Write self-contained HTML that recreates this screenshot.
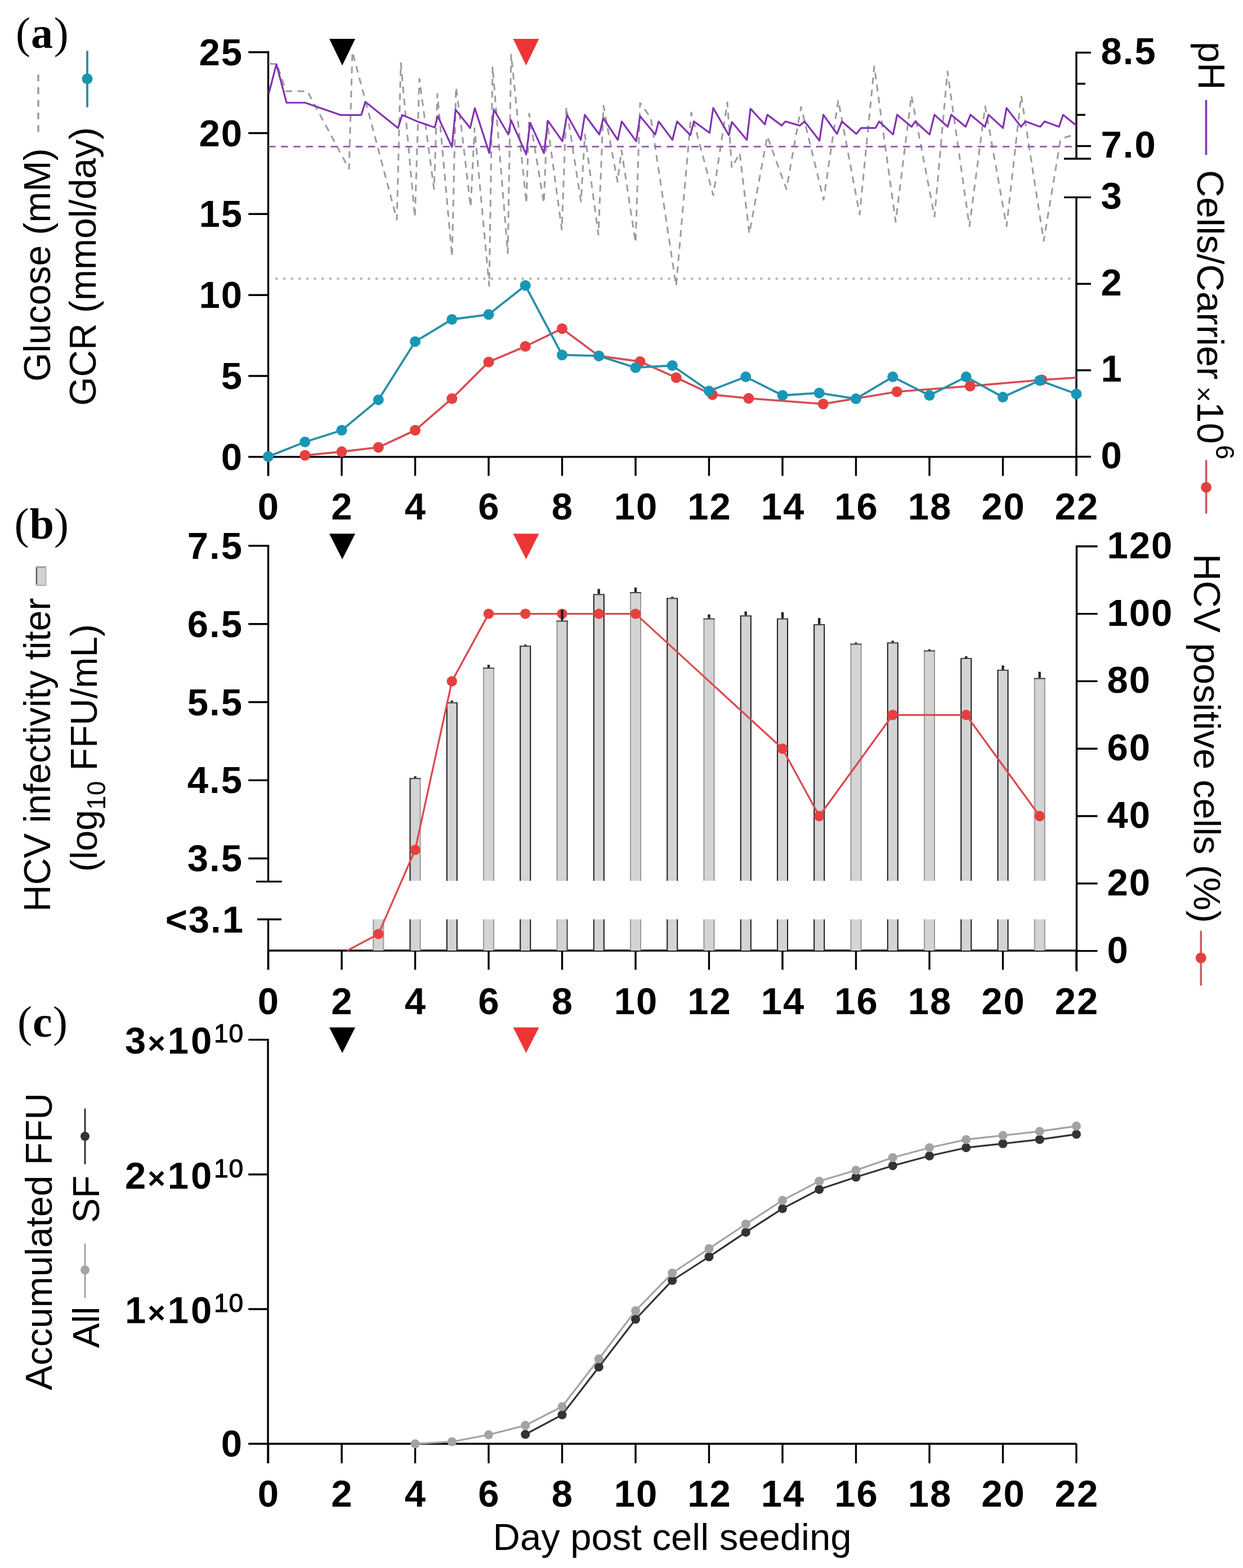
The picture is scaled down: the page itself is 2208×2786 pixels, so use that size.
<!DOCTYPE html>
<html><head><meta charset="utf-8"><title>Figure</title>
<style>html,body{margin:0;padding:0;background:#fff;} svg{display:block;}</style></head>
<body><svg width="2208" height="2786" viewBox="0 0 2208 2786">
<rect width="2208" height="2786" fill="#fff"/>
<line x1="476.5" y1="90.8" x2="476.5" y2="845.5" stroke="#000" stroke-width="3.4" />
<line x1="441.2" y1="92.7" x2="476.5" y2="92.7" stroke="#000" stroke-width="3.4" />
<line x1="441.2" y1="236.5" x2="476.5" y2="236.5" stroke="#000" stroke-width="3.4" />
<line x1="441.2" y1="380.3" x2="476.5" y2="380.3" stroke="#000" stroke-width="3.4" />
<line x1="441.2" y1="524.2" x2="476.5" y2="524.2" stroke="#000" stroke-width="3.4" />
<line x1="441.2" y1="668.0" x2="476.5" y2="668.0" stroke="#000" stroke-width="3.4" />
<line x1="441.2" y1="811.8" x2="476.5" y2="811.8" stroke="#000" stroke-width="3.4" />
<line x1="476.5" y1="811.8" x2="1912.0" y2="811.8" stroke="#000" stroke-width="3.4" />
<line x1="476.5" y1="811.8" x2="476.5" y2="845.5" stroke="#000" stroke-width="3.4" />
<line x1="607.0" y1="811.8" x2="607.0" y2="845.5" stroke="#000" stroke-width="3.4" />
<line x1="737.5" y1="811.8" x2="737.5" y2="845.5" stroke="#000" stroke-width="3.4" />
<line x1="868.0" y1="811.8" x2="868.0" y2="845.5" stroke="#000" stroke-width="3.4" />
<line x1="998.5" y1="811.8" x2="998.5" y2="845.5" stroke="#000" stroke-width="3.4" />
<line x1="1129.0" y1="811.8" x2="1129.0" y2="845.5" stroke="#000" stroke-width="3.4" />
<line x1="1259.5" y1="811.8" x2="1259.5" y2="845.5" stroke="#000" stroke-width="3.4" />
<line x1="1390.0" y1="811.8" x2="1390.0" y2="845.5" stroke="#000" stroke-width="3.4" />
<line x1="1520.5" y1="811.8" x2="1520.5" y2="845.5" stroke="#000" stroke-width="3.4" />
<line x1="1651.0" y1="811.8" x2="1651.0" y2="845.5" stroke="#000" stroke-width="3.4" />
<line x1="1781.5" y1="811.8" x2="1781.5" y2="845.5" stroke="#000" stroke-width="3.4" />
<line x1="1912.0" y1="811.8" x2="1912.0" y2="845.5" stroke="#000" stroke-width="3.4" />
<line x1="1912.0" y1="91.8" x2="1912.0" y2="282.0" stroke="#000" stroke-width="3.4" />
<line x1="1912.0" y1="93.5" x2="1938.0" y2="93.5" stroke="#000" stroke-width="3.4" />
<line x1="1912.0" y1="148.8" x2="1928.0" y2="148.8" stroke="#000" stroke-width="3.4" />
<line x1="1912.0" y1="204.1" x2="1928.0" y2="204.1" stroke="#000" stroke-width="3.4" />
<line x1="1912.0" y1="259.5" x2="1938.0" y2="259.5" stroke="#000" stroke-width="3.4" />
<line x1="1890.0" y1="282.0" x2="1938.0" y2="282.0" stroke="#000" stroke-width="3.4" />
<line x1="1912.0" y1="350.6" x2="1912.0" y2="845.5" stroke="#000" stroke-width="3.4" />
<line x1="1890.0" y1="350.6" x2="1938.0" y2="350.6" stroke="#000" stroke-width="3.4" />
<line x1="1912.0" y1="504.3" x2="1938.0" y2="504.3" stroke="#000" stroke-width="3.4" />
<line x1="1912.0" y1="657.9" x2="1938.0" y2="657.9" stroke="#000" stroke-width="3.4" />
<line x1="1912.0" y1="811.5" x2="1938.0" y2="811.5" stroke="#000" stroke-width="3.4" />
<text id="la25" x="432.0" y="115.7" font-size="67" text-anchor="end" style='font-family:"Liberation Sans",Arial,sans-serif;font-weight:bold;letter-spacing:2px' fill="#000" >25</text>
<text id="la20" x="432.0" y="259.5" font-size="67" text-anchor="end" style='font-family:"Liberation Sans",Arial,sans-serif;font-weight:bold;letter-spacing:2px' fill="#000" >20</text>
<text id="la15" x="432.0" y="403.3" font-size="67" text-anchor="end" style='font-family:"Liberation Sans",Arial,sans-serif;font-weight:bold;letter-spacing:2px' fill="#000" >15</text>
<text id="la10" x="432.0" y="547.2" font-size="67" text-anchor="end" style='font-family:"Liberation Sans",Arial,sans-serif;font-weight:bold;letter-spacing:2px' fill="#000" >10</text>
<text id="la5" x="432.0" y="691.0" font-size="67" text-anchor="end" style='font-family:"Liberation Sans",Arial,sans-serif;font-weight:bold;letter-spacing:2px' fill="#000" >5</text>
<text id="la0" x="432.0" y="834.8" font-size="67" text-anchor="end" style='font-family:"Liberation Sans",Arial,sans-serif;font-weight:bold;letter-spacing:2px' fill="#000" >0</text>
<text id="ph85" x="1955.5" y="114.0" font-size="67" text-anchor="start" style='font-family:"Liberation Sans",Arial,sans-serif;font-weight:bold;letter-spacing:2px' fill="#000" >8.5</text>
<text id="ph70" x="1955.5" y="280.0" font-size="67" text-anchor="start" style='font-family:"Liberation Sans",Arial,sans-serif;font-weight:bold;letter-spacing:2px' fill="#000" >7.0</text>
<text id="c3" x="1955.5" y="371.2" font-size="67" text-anchor="start" style='font-family:"Liberation Sans",Arial,sans-serif;font-weight:bold;letter-spacing:2px' fill="#000" >3</text>
<text id="c2" x="1955.5" y="524.8" font-size="67" text-anchor="start" style='font-family:"Liberation Sans",Arial,sans-serif;font-weight:bold;letter-spacing:2px' fill="#000" >2</text>
<text id="c1" x="1955.5" y="678.4" font-size="67" text-anchor="start" style='font-family:"Liberation Sans",Arial,sans-serif;font-weight:bold;letter-spacing:2px' fill="#000" >1</text>
<text id="c0" x="1955.5" y="832.0" font-size="67" text-anchor="start" style='font-family:"Liberation Sans",Arial,sans-serif;font-weight:bold;letter-spacing:2px' fill="#000" >0</text>
<text id="xa0" x="477.5" y="923.0" font-size="67" text-anchor="middle" style='font-family:"Liberation Sans",Arial,sans-serif;font-weight:bold;letter-spacing:2px' fill="#000" >0</text>
<text id="xa2" x="608.0" y="923.0" font-size="67" text-anchor="middle" style='font-family:"Liberation Sans",Arial,sans-serif;font-weight:bold;letter-spacing:2px' fill="#000" >2</text>
<text id="xa4" x="738.5" y="923.0" font-size="67" text-anchor="middle" style='font-family:"Liberation Sans",Arial,sans-serif;font-weight:bold;letter-spacing:2px' fill="#000" >4</text>
<text id="xa6" x="869.0" y="923.0" font-size="67" text-anchor="middle" style='font-family:"Liberation Sans",Arial,sans-serif;font-weight:bold;letter-spacing:2px' fill="#000" >6</text>
<text id="xa8" x="999.5" y="923.0" font-size="67" text-anchor="middle" style='font-family:"Liberation Sans",Arial,sans-serif;font-weight:bold;letter-spacing:2px' fill="#000" >8</text>
<text id="xa10" x="1130.0" y="923.0" font-size="67" text-anchor="middle" style='font-family:"Liberation Sans",Arial,sans-serif;font-weight:bold;letter-spacing:2px' fill="#000" >10</text>
<text id="xa12" x="1260.5" y="923.0" font-size="67" text-anchor="middle" style='font-family:"Liberation Sans",Arial,sans-serif;font-weight:bold;letter-spacing:2px' fill="#000" >12</text>
<text id="xa14" x="1391.0" y="923.0" font-size="67" text-anchor="middle" style='font-family:"Liberation Sans",Arial,sans-serif;font-weight:bold;letter-spacing:2px' fill="#000" >14</text>
<text id="xa16" x="1521.5" y="923.0" font-size="67" text-anchor="middle" style='font-family:"Liberation Sans",Arial,sans-serif;font-weight:bold;letter-spacing:2px' fill="#000" >16</text>
<text id="xa18" x="1652.0" y="923.0" font-size="67" text-anchor="middle" style='font-family:"Liberation Sans",Arial,sans-serif;font-weight:bold;letter-spacing:2px' fill="#000" >18</text>
<text id="xa20" x="1782.5" y="923.0" font-size="67" text-anchor="middle" style='font-family:"Liberation Sans",Arial,sans-serif;font-weight:bold;letter-spacing:2px' fill="#000" >20</text>
<text id="xa22" x="1913.0" y="923.0" font-size="67" text-anchor="middle" style='font-family:"Liberation Sans",Arial,sans-serif;font-weight:bold;letter-spacing:2px' fill="#000" >22</text>
<line x1="489.2" y1="495.3" x2="1910.0" y2="495.3" stroke="#b3b3b3" stroke-width="4" stroke-dasharray="4 9.67"/>
<polyline points="477.0,113.0 492.0,114.0 508.0,162.0 546.0,162.0 620.0,300.0 626.0,92.0 705.0,390.0 712.0,112.0 737.0,386.0 745.0,140.0 771.0,336.0 777.0,167.0 803.0,456.0 810.0,155.0 820.0,230.0 836.0,368.0 843.0,228.0 869.0,508.0 875.0,118.0 902.0,450.0 908.0,97.0 935.0,361.0 940.0,202.0 966.0,361.0 972.0,216.0 998.0,408.0 1006.0,190.0 1032.0,358.0 1039.0,239.0 1063.0,417.0 1072.0,188.0 1097.0,323.0 1104.0,267.0 1129.0,431.0 1137.0,183.0 1156.0,209.0 1201.0,508.0 1228.0,200.0 1267.0,347.0 1292.0,182.0 1300.0,298.0 1314.0,272.0 1331.0,415.0 1363.0,242.0 1397.0,336.0 1423.0,190.0 1463.0,355.0 1489.0,178.0 1527.0,381.0 1553.0,118.0 1591.0,394.0 1619.0,170.0 1660.0,385.0 1683.0,127.0 1722.0,402.0 1750.0,189.0 1788.0,402.0 1814.0,170.0 1854.0,428.0 1884.0,247.0 1905.0,240.0" fill="none" stroke="#9c9c9c" stroke-width="3" stroke-linejoin="round" stroke-dasharray="12 9.5"/>
<line x1="477.0" y1="260.4" x2="1906.0" y2="260.4" stroke="#9a62b6" stroke-width="3" stroke-dasharray="12.5 9.6"/>
<polyline points="477.4,166.5 491.0,114.0 509.0,182.5 542.0,182.5 604.8,204.3 641.7,204.3 649.0,181.0 707.0,227.5 714.4,204.3 741.7,215.9 772.3,226.4 777.6,206.4 802.8,261.0 809.2,194.8 835.2,227.5 843.4,192.3 869.2,272.0 877.3,194.7 903.0,239.0 907.8,213.4 934.7,274.3 941.7,218.0 966.3,272.0 973.3,214.6 999.0,250.9 1007.2,204.0 1031.8,248.5 1038.8,204.0 1064.6,239.0 1071.6,210.0 1097.4,248.5 1104.4,215.8 1130.0,250.9 1137.1,206.4 1164.0,239.0 1170.0,215.8 1194.5,248.5 1202.7,215.8 1226.3,240.2 1232.7,215.8 1260.5,236.0 1266.9,191.9 1294.7,240.2 1300.2,216.7 1326.7,248.7 1333.1,193.2 1358.7,221.0 1363.0,203.9 1388.6,223.1 1395.0,215.8 1420.7,223.1 1429.2,215.8 1455.7,250.0 1462.5,203.9 1486.9,238.0 1495.4,215.8 1521.0,238.0 1529.6,227.4 1555.2,227.4 1561.6,215.8 1586.4,238.9 1593.7,203.9 1619.3,225.2 1625.7,215.8 1651.3,238.9 1659.9,203.9 1683.4,225.2 1689.8,203.9 1715.4,225.2 1724.0,203.9 1749.6,225.2 1756.0,203.9 1781.6,227.4 1788.0,191.9 1813.7,225.2 1821.4,215.8 1847.8,225.2 1855.5,215.8 1881.2,225.2 1888.4,203.9 1911.9,223.1" fill="none" stroke="#8433b3" stroke-width="3.2" stroke-linejoin="round" />
<polyline points="541.8,809.0 607.0,802.6 672.2,794.8 737.5,764.5 802.8,708.2 868.0,643.2 933.2,615.5 998.5,583.9 1063.8,632.4 1137.0,642.4 1201.2,671.0 1265.5,701.2 1329.8,707.7 1462.2,717.7 1593.2,696.0 1723.2,686.0 1850.8,675.0 1912.0,671.0" fill="none" stroke="#d64c53" stroke-width="3.6" stroke-linejoin="round" />
<circle cx="541.8" cy="809.0" r="9.5" fill="#e5403f"/>
<circle cx="607.0" cy="802.6" r="9.5" fill="#e5403f"/>
<circle cx="672.2" cy="794.8" r="9.5" fill="#e5403f"/>
<circle cx="737.5" cy="764.5" r="9.5" fill="#e5403f"/>
<circle cx="802.8" cy="708.2" r="9.5" fill="#e5403f"/>
<circle cx="868.0" cy="643.2" r="9.5" fill="#e5403f"/>
<circle cx="933.2" cy="615.5" r="9.5" fill="#e5403f"/>
<circle cx="998.5" cy="583.9" r="9.5" fill="#e5403f"/>
<circle cx="1063.8" cy="632.4" r="9.5" fill="#e5403f"/>
<circle cx="1137.0" cy="642.4" r="9.5" fill="#e5403f"/>
<circle cx="1201.2" cy="671.0" r="9.5" fill="#e5403f"/>
<circle cx="1265.5" cy="701.2" r="9.5" fill="#e5403f"/>
<circle cx="1329.8" cy="707.7" r="9.5" fill="#e5403f"/>
<circle cx="1462.2" cy="717.7" r="9.5" fill="#e5403f"/>
<circle cx="1593.2" cy="696.0" r="9.5" fill="#e5403f"/>
<circle cx="1723.2" cy="686.0" r="9.5" fill="#e5403f"/>
<circle cx="1850.8" cy="675.0" r="9.5" fill="#e5403f"/>
<polyline points="476.5,811.2 541.8,785.3 607.0,764.5 672.2,710.4 737.5,606.9 802.8,567.5 868.0,558.8 933.2,507.3 998.5,630.7 1063.8,632.4 1129.0,653.2 1194.2,649.5 1259.5,694.7 1324.8,669.6 1390.0,702.5 1455.2,698.2 1520.5,708.6 1585.8,669.6 1651.0,702.5 1716.2,669.6 1781.5,705.6 1846.8,676.0 1912.0,700.0" fill="none" stroke="#2690a8" stroke-width="3.8" stroke-linejoin="round" />
<circle cx="476.5" cy="811.2" r="9.5" fill="#1996b6"/>
<circle cx="541.8" cy="785.3" r="9.5" fill="#1996b6"/>
<circle cx="607.0" cy="764.5" r="9.5" fill="#1996b6"/>
<circle cx="672.2" cy="710.4" r="9.5" fill="#1996b6"/>
<circle cx="737.5" cy="606.9" r="9.5" fill="#1996b6"/>
<circle cx="802.8" cy="567.5" r="9.5" fill="#1996b6"/>
<circle cx="868.0" cy="558.8" r="9.5" fill="#1996b6"/>
<circle cx="933.2" cy="507.3" r="9.5" fill="#1996b6"/>
<circle cx="998.5" cy="630.7" r="9.5" fill="#1996b6"/>
<circle cx="1063.8" cy="632.4" r="9.5" fill="#1996b6"/>
<circle cx="1129.0" cy="653.2" r="9.5" fill="#1996b6"/>
<circle cx="1194.2" cy="649.5" r="9.5" fill="#1996b6"/>
<circle cx="1259.5" cy="694.7" r="9.5" fill="#1996b6"/>
<circle cx="1324.8" cy="669.6" r="9.5" fill="#1996b6"/>
<circle cx="1390.0" cy="702.5" r="9.5" fill="#1996b6"/>
<circle cx="1455.2" cy="698.2" r="9.5" fill="#1996b6"/>
<circle cx="1520.5" cy="708.6" r="9.5" fill="#1996b6"/>
<circle cx="1585.8" cy="669.6" r="9.5" fill="#1996b6"/>
<circle cx="1651.0" cy="702.5" r="9.5" fill="#1996b6"/>
<circle cx="1716.2" cy="669.6" r="9.5" fill="#1996b6"/>
<circle cx="1781.5" cy="705.6" r="9.5" fill="#1996b6"/>
<circle cx="1846.8" cy="676.0" r="9.5" fill="#1996b6"/>
<circle cx="1912.0" cy="700.0" r="9.5" fill="#1996b6"/>
<polygon points="585.0,69 631.0,69 608.0,116.2" fill="#000"/>
<polygon points="911.5,69 957.5,69 934.5,116.2" fill="#ee3535"/>
<polygon points="585.0,948.3 631.0,948.3 608.0,993.7" fill="#000"/>
<polygon points="911.5,948.3 957.5,948.3 934.5,993.7" fill="#ee3535"/>
<polygon points="585.0,1825.6 631.0,1825.6 608.0,1871" fill="#000"/>
<polygon points="911.5,1825.6 957.5,1825.6 934.5,1871" fill="#ee3535"/>
<line x1="476.5" y1="968.1" x2="476.5" y2="1566.4" stroke="#000" stroke-width="3.4" />
<line x1="441.2" y1="969.8" x2="476.5" y2="969.8" stroke="#000" stroke-width="3.4" />
<line x1="441.2" y1="1108.7" x2="476.5" y2="1108.7" stroke="#000" stroke-width="3.4" />
<line x1="441.2" y1="1247.5" x2="476.5" y2="1247.5" stroke="#000" stroke-width="3.4" />
<line x1="441.2" y1="1386.4" x2="476.5" y2="1386.4" stroke="#000" stroke-width="3.4" />
<line x1="441.2" y1="1525.3" x2="476.5" y2="1525.3" stroke="#000" stroke-width="3.4" />
<line x1="455.0" y1="1566.4" x2="500.7" y2="1566.4" stroke="#000" stroke-width="3.4" />
<line x1="457.0" y1="1633.5" x2="500.0" y2="1633.5" stroke="#000" stroke-width="3.4" />
<line x1="476.5" y1="1633.5" x2="476.5" y2="1723.0" stroke="#000" stroke-width="3.4" />
<line x1="476.5" y1="1689.0" x2="1912.5" y2="1689.0" stroke="#000" stroke-width="3.4" />
<line x1="476.5" y1="1689.0" x2="476.5" y2="1723.0" stroke="#000" stroke-width="3.4" />
<line x1="607.0" y1="1689.0" x2="607.0" y2="1723.0" stroke="#000" stroke-width="3.4" />
<line x1="737.5" y1="1689.0" x2="737.5" y2="1723.0" stroke="#000" stroke-width="3.4" />
<line x1="868.0" y1="1689.0" x2="868.0" y2="1723.0" stroke="#000" stroke-width="3.4" />
<line x1="998.5" y1="1689.0" x2="998.5" y2="1723.0" stroke="#000" stroke-width="3.4" />
<line x1="1129.0" y1="1689.0" x2="1129.0" y2="1723.0" stroke="#000" stroke-width="3.4" />
<line x1="1259.5" y1="1689.0" x2="1259.5" y2="1723.0" stroke="#000" stroke-width="3.4" />
<line x1="1390.0" y1="1689.0" x2="1390.0" y2="1723.0" stroke="#000" stroke-width="3.4" />
<line x1="1520.5" y1="1689.0" x2="1520.5" y2="1723.0" stroke="#000" stroke-width="3.4" />
<line x1="1651.0" y1="1689.0" x2="1651.0" y2="1723.0" stroke="#000" stroke-width="3.4" />
<line x1="1781.5" y1="1689.0" x2="1781.5" y2="1723.0" stroke="#000" stroke-width="3.4" />
<line x1="1912.0" y1="1689.0" x2="1912.0" y2="1723.0" stroke="#000" stroke-width="3.4" />
<line x1="1912.5" y1="969.1" x2="1912.5" y2="1726.0" stroke="#000" stroke-width="3.4" />
<line x1="1912.5" y1="1689.6" x2="1949.5" y2="1689.6" stroke="#000" stroke-width="3.4" />
<line x1="1912.5" y1="1569.8" x2="1949.5" y2="1569.8" stroke="#000" stroke-width="3.4" />
<line x1="1912.5" y1="1450.0" x2="1949.5" y2="1450.0" stroke="#000" stroke-width="3.4" />
<line x1="1912.5" y1="1330.2" x2="1949.5" y2="1330.2" stroke="#000" stroke-width="3.4" />
<line x1="1912.5" y1="1210.4" x2="1949.5" y2="1210.4" stroke="#000" stroke-width="3.4" />
<line x1="1912.5" y1="1090.6" x2="1949.5" y2="1090.6" stroke="#000" stroke-width="3.4" />
<line x1="1912.5" y1="970.8" x2="1949.5" y2="970.8" stroke="#000" stroke-width="3.4" />
<text id="lb7.5" x="432.0" y="992.8" font-size="67" text-anchor="end" style='font-family:"Liberation Sans",Arial,sans-serif;font-weight:bold;letter-spacing:2px' fill="#000" >7.5</text>
<text id="lb6.5" x="432.0" y="1131.7" font-size="67" text-anchor="end" style='font-family:"Liberation Sans",Arial,sans-serif;font-weight:bold;letter-spacing:2px' fill="#000" >6.5</text>
<text id="lb5.5" x="432.0" y="1270.5" font-size="67" text-anchor="end" style='font-family:"Liberation Sans",Arial,sans-serif;font-weight:bold;letter-spacing:2px' fill="#000" >5.5</text>
<text id="lb4.5" x="432.0" y="1409.4" font-size="67" text-anchor="end" style='font-family:"Liberation Sans",Arial,sans-serif;font-weight:bold;letter-spacing:2px' fill="#000" >4.5</text>
<text id="lb3.5" x="432.0" y="1548.3" font-size="67" text-anchor="end" style='font-family:"Liberation Sans",Arial,sans-serif;font-weight:bold;letter-spacing:2px' fill="#000" >3.5</text>
<text id="lb31" x="434.0" y="1656.5" font-size="67" text-anchor="end" style='font-family:"Liberation Sans",Arial,sans-serif;font-weight:bold;letter-spacing:2px' fill="#000" >&lt;3.1</text>
<text id="rb0" x="1966.5" y="1710.6" font-size="67" text-anchor="start" style='font-family:"Liberation Sans",Arial,sans-serif;font-weight:bold;letter-spacing:2px' fill="#000" >0</text>
<text id="rb20" x="1966.5" y="1590.8" font-size="67" text-anchor="start" style='font-family:"Liberation Sans",Arial,sans-serif;font-weight:bold;letter-spacing:2px' fill="#000" >20</text>
<text id="rb40" x="1966.5" y="1471.0" font-size="67" text-anchor="start" style='font-family:"Liberation Sans",Arial,sans-serif;font-weight:bold;letter-spacing:2px' fill="#000" >40</text>
<text id="rb60" x="1966.5" y="1351.2" font-size="67" text-anchor="start" style='font-family:"Liberation Sans",Arial,sans-serif;font-weight:bold;letter-spacing:2px' fill="#000" >60</text>
<text id="rb80" x="1966.5" y="1231.4" font-size="67" text-anchor="start" style='font-family:"Liberation Sans",Arial,sans-serif;font-weight:bold;letter-spacing:2px' fill="#000" >80</text>
<text id="rb100" x="1966.5" y="1111.6" font-size="67" text-anchor="start" style='font-family:"Liberation Sans",Arial,sans-serif;font-weight:bold;letter-spacing:2px' fill="#000" >100</text>
<text id="rb120" x="1966.5" y="991.8" font-size="67" text-anchor="start" style='font-family:"Liberation Sans",Arial,sans-serif;font-weight:bold;letter-spacing:2px' fill="#000" >120</text>
<text id="xb0" x="477.5" y="1802.0" font-size="67" text-anchor="middle" style='font-family:"Liberation Sans",Arial,sans-serif;font-weight:bold;letter-spacing:2px' fill="#000" >0</text>
<text id="xb2" x="608.0" y="1802.0" font-size="67" text-anchor="middle" style='font-family:"Liberation Sans",Arial,sans-serif;font-weight:bold;letter-spacing:2px' fill="#000" >2</text>
<text id="xb4" x="738.5" y="1802.0" font-size="67" text-anchor="middle" style='font-family:"Liberation Sans",Arial,sans-serif;font-weight:bold;letter-spacing:2px' fill="#000" >4</text>
<text id="xb6" x="869.0" y="1802.0" font-size="67" text-anchor="middle" style='font-family:"Liberation Sans",Arial,sans-serif;font-weight:bold;letter-spacing:2px' fill="#000" >6</text>
<text id="xb8" x="999.5" y="1802.0" font-size="67" text-anchor="middle" style='font-family:"Liberation Sans",Arial,sans-serif;font-weight:bold;letter-spacing:2px' fill="#000" >8</text>
<text id="xb10" x="1130.0" y="1802.0" font-size="67" text-anchor="middle" style='font-family:"Liberation Sans",Arial,sans-serif;font-weight:bold;letter-spacing:2px' fill="#000" >10</text>
<text id="xb12" x="1260.5" y="1802.0" font-size="67" text-anchor="middle" style='font-family:"Liberation Sans",Arial,sans-serif;font-weight:bold;letter-spacing:2px' fill="#000" >12</text>
<text id="xb14" x="1391.0" y="1802.0" font-size="67" text-anchor="middle" style='font-family:"Liberation Sans",Arial,sans-serif;font-weight:bold;letter-spacing:2px' fill="#000" >14</text>
<text id="xb16" x="1521.5" y="1802.0" font-size="67" text-anchor="middle" style='font-family:"Liberation Sans",Arial,sans-serif;font-weight:bold;letter-spacing:2px' fill="#000" >16</text>
<text id="xb18" x="1652.0" y="1802.0" font-size="67" text-anchor="middle" style='font-family:"Liberation Sans",Arial,sans-serif;font-weight:bold;letter-spacing:2px' fill="#000" >18</text>
<text id="xb20" x="1782.5" y="1802.0" font-size="67" text-anchor="middle" style='font-family:"Liberation Sans",Arial,sans-serif;font-weight:bold;letter-spacing:2px' fill="#000" >20</text>
<text id="xb22" x="1913.0" y="1802.0" font-size="67" text-anchor="middle" style='font-family:"Liberation Sans",Arial,sans-serif;font-weight:bold;letter-spacing:2px' fill="#000" >22</text>
<rect x="662.2" y="1633.5" width="20" height="55.5" fill="#d4d4d4"/>
<line x1="663.2" y1="1633.5" x2="663.2" y2="1689.0" stroke="#9a9a9a" stroke-width="2" />
<line x1="681.2" y1="1633.5" x2="681.2" y2="1689.0" stroke="#9a9a9a" stroke-width="2" />
<rect x="727.5" y="1633.5" width="20" height="55.5" fill="#d4d4d4"/>
<line x1="728.5" y1="1633.5" x2="728.5" y2="1689.0" stroke="#1e1e1e" stroke-width="2" />
<line x1="746.5" y1="1633.5" x2="746.5" y2="1689.0" stroke="#9a9a9a" stroke-width="2" />
<rect x="727.5" y="1382.3" width="20" height="182.7" fill="#d4d4d4"/>
<line x1="728.5" y1="1382.3" x2="728.5" y2="1565.0" stroke="#1e1e1e" stroke-width="2" />
<line x1="746.5" y1="1382.3" x2="746.5" y2="1565.0" stroke="#9a9a9a" stroke-width="2" />
<line x1="727.5" y1="1383.3" x2="747.5" y2="1383.3" stroke="#444" stroke-width="2" />
<rect x="792.8" y="1633.5" width="20" height="55.5" fill="#d4d4d4"/>
<line x1="793.8" y1="1633.5" x2="793.8" y2="1689.0" stroke="#1e1e1e" stroke-width="2" />
<line x1="811.8" y1="1633.5" x2="811.8" y2="1689.0" stroke="#1e1e1e" stroke-width="2" />
<rect x="792.8" y="1247.7" width="20" height="317.3" fill="#d4d4d4"/>
<line x1="793.8" y1="1247.7" x2="793.8" y2="1565.0" stroke="#1e1e1e" stroke-width="2" />
<line x1="811.8" y1="1247.7" x2="811.8" y2="1565.0" stroke="#1e1e1e" stroke-width="2" />
<line x1="792.8" y1="1248.7" x2="812.8" y2="1248.7" stroke="#444" stroke-width="2" />
<rect x="858.0" y="1633.5" width="20" height="55.5" fill="#d4d4d4"/>
<line x1="859.0" y1="1633.5" x2="859.0" y2="1689.0" stroke="#9a9a9a" stroke-width="2" />
<line x1="877.0" y1="1633.5" x2="877.0" y2="1689.0" stroke="#9a9a9a" stroke-width="2" />
<rect x="858.0" y="1186.2" width="20" height="378.8" fill="#d4d4d4"/>
<line x1="859.0" y1="1186.2" x2="859.0" y2="1565.0" stroke="#9a9a9a" stroke-width="2" />
<line x1="877.0" y1="1186.2" x2="877.0" y2="1565.0" stroke="#9a9a9a" stroke-width="2" />
<line x1="858.0" y1="1187.2" x2="878.0" y2="1187.2" stroke="#444" stroke-width="2" />
<rect x="923.2" y="1633.5" width="20" height="55.5" fill="#d4d4d4"/>
<line x1="924.2" y1="1633.5" x2="924.2" y2="1689.0" stroke="#1e1e1e" stroke-width="2" />
<line x1="942.2" y1="1633.5" x2="942.2" y2="1689.0" stroke="#1e1e1e" stroke-width="2" />
<rect x="923.2" y="1147.2" width="20" height="417.8" fill="#d4d4d4"/>
<line x1="924.2" y1="1147.2" x2="924.2" y2="1565.0" stroke="#1e1e1e" stroke-width="2" />
<line x1="942.2" y1="1147.2" x2="942.2" y2="1565.0" stroke="#1e1e1e" stroke-width="2" />
<line x1="923.2" y1="1148.2" x2="943.2" y2="1148.2" stroke="#444" stroke-width="2" />
<rect x="988.5" y="1633.5" width="20" height="55.5" fill="#d4d4d4"/>
<line x1="989.5" y1="1633.5" x2="989.5" y2="1689.0" stroke="#9a9a9a" stroke-width="2" />
<line x1="1007.5" y1="1633.5" x2="1007.5" y2="1689.0" stroke="#444" stroke-width="2" />
<rect x="988.5" y="1102.6" width="20" height="462.4" fill="#d4d4d4"/>
<line x1="989.5" y1="1102.6" x2="989.5" y2="1565.0" stroke="#9a9a9a" stroke-width="2" />
<line x1="1007.5" y1="1102.6" x2="1007.5" y2="1565.0" stroke="#444" stroke-width="2" />
<line x1="988.5" y1="1103.6" x2="1008.5" y2="1103.6" stroke="#444" stroke-width="2" />
<rect x="1053.8" y="1633.5" width="20" height="55.5" fill="#d4d4d4"/>
<line x1="1054.8" y1="1633.5" x2="1054.8" y2="1689.0" stroke="#1e1e1e" stroke-width="2" />
<line x1="1072.8" y1="1633.5" x2="1072.8" y2="1689.0" stroke="#1e1e1e" stroke-width="2" />
<rect x="1053.8" y="1055.4" width="20" height="509.6" fill="#d4d4d4"/>
<line x1="1054.8" y1="1055.4" x2="1054.8" y2="1565.0" stroke="#1e1e1e" stroke-width="2" />
<line x1="1072.8" y1="1055.4" x2="1072.8" y2="1565.0" stroke="#1e1e1e" stroke-width="2" />
<line x1="1053.8" y1="1056.4" x2="1073.8" y2="1056.4" stroke="#444" stroke-width="2" />
<rect x="1119.0" y="1633.5" width="20" height="55.5" fill="#d4d4d4"/>
<line x1="1120.0" y1="1633.5" x2="1120.0" y2="1689.0" stroke="#9a9a9a" stroke-width="2" />
<line x1="1138.0" y1="1633.5" x2="1138.0" y2="1689.0" stroke="#9a9a9a" stroke-width="2" />
<rect x="1119.0" y="1052.0" width="20" height="513.0" fill="#d4d4d4"/>
<line x1="1120.0" y1="1052.0" x2="1120.0" y2="1565.0" stroke="#9a9a9a" stroke-width="2" />
<line x1="1138.0" y1="1052.0" x2="1138.0" y2="1565.0" stroke="#9a9a9a" stroke-width="2" />
<line x1="1119.0" y1="1053.0" x2="1139.0" y2="1053.0" stroke="#444" stroke-width="2" />
<rect x="1184.2" y="1633.5" width="20" height="55.5" fill="#d4d4d4"/>
<line x1="1185.2" y1="1633.5" x2="1185.2" y2="1689.0" stroke="#1e1e1e" stroke-width="2" />
<line x1="1203.2" y1="1633.5" x2="1203.2" y2="1689.0" stroke="#1e1e1e" stroke-width="2" />
<rect x="1184.2" y="1062.3" width="20" height="502.7" fill="#d4d4d4"/>
<line x1="1185.2" y1="1062.3" x2="1185.2" y2="1565.0" stroke="#1e1e1e" stroke-width="2" />
<line x1="1203.2" y1="1062.3" x2="1203.2" y2="1565.0" stroke="#1e1e1e" stroke-width="2" />
<line x1="1184.2" y1="1063.3" x2="1204.2" y2="1063.3" stroke="#444" stroke-width="2" />
<rect x="1249.5" y="1633.5" width="20" height="55.5" fill="#d4d4d4"/>
<line x1="1250.5" y1="1633.5" x2="1250.5" y2="1689.0" stroke="#9a9a9a" stroke-width="2" />
<line x1="1268.5" y1="1633.5" x2="1268.5" y2="1689.0" stroke="#9a9a9a" stroke-width="2" />
<rect x="1249.5" y="1098.7" width="20" height="466.3" fill="#d4d4d4"/>
<line x1="1250.5" y1="1098.7" x2="1250.5" y2="1565.0" stroke="#9a9a9a" stroke-width="2" />
<line x1="1268.5" y1="1098.7" x2="1268.5" y2="1565.0" stroke="#9a9a9a" stroke-width="2" />
<line x1="1249.5" y1="1099.7" x2="1269.5" y2="1099.7" stroke="#444" stroke-width="2" />
<rect x="1314.8" y="1633.5" width="20" height="55.5" fill="#d4d4d4"/>
<line x1="1315.8" y1="1633.5" x2="1315.8" y2="1689.0" stroke="#1e1e1e" stroke-width="2" />
<line x1="1333.8" y1="1633.5" x2="1333.8" y2="1689.0" stroke="#1e1e1e" stroke-width="2" />
<rect x="1314.8" y="1093.4" width="20" height="471.6" fill="#d4d4d4"/>
<line x1="1315.8" y1="1093.4" x2="1315.8" y2="1565.0" stroke="#1e1e1e" stroke-width="2" />
<line x1="1333.8" y1="1093.4" x2="1333.8" y2="1565.0" stroke="#1e1e1e" stroke-width="2" />
<line x1="1314.8" y1="1094.4" x2="1334.8" y2="1094.4" stroke="#444" stroke-width="2" />
<rect x="1380.0" y="1633.5" width="20" height="55.5" fill="#d4d4d4"/>
<line x1="1381.0" y1="1633.5" x2="1381.0" y2="1689.0" stroke="#1e1e1e" stroke-width="2" />
<line x1="1399.0" y1="1633.5" x2="1399.0" y2="1689.0" stroke="#1e1e1e" stroke-width="2" />
<rect x="1380.0" y="1098.7" width="20" height="466.3" fill="#d4d4d4"/>
<line x1="1381.0" y1="1098.7" x2="1381.0" y2="1565.0" stroke="#1e1e1e" stroke-width="2" />
<line x1="1399.0" y1="1098.7" x2="1399.0" y2="1565.0" stroke="#1e1e1e" stroke-width="2" />
<line x1="1380.0" y1="1099.7" x2="1400.0" y2="1099.7" stroke="#444" stroke-width="2" />
<rect x="1445.2" y="1633.5" width="20" height="55.5" fill="#d4d4d4"/>
<line x1="1446.2" y1="1633.5" x2="1446.2" y2="1689.0" stroke="#1e1e1e" stroke-width="2" />
<line x1="1464.2" y1="1633.5" x2="1464.2" y2="1689.0" stroke="#1e1e1e" stroke-width="2" />
<rect x="1445.2" y="1109.0" width="20" height="456.0" fill="#d4d4d4"/>
<line x1="1446.2" y1="1109.0" x2="1446.2" y2="1565.0" stroke="#1e1e1e" stroke-width="2" />
<line x1="1464.2" y1="1109.0" x2="1464.2" y2="1565.0" stroke="#1e1e1e" stroke-width="2" />
<line x1="1445.2" y1="1110.0" x2="1465.2" y2="1110.0" stroke="#444" stroke-width="2" />
<rect x="1510.5" y="1633.5" width="20" height="55.5" fill="#d4d4d4"/>
<line x1="1511.5" y1="1633.5" x2="1511.5" y2="1689.0" stroke="#9a9a9a" stroke-width="2" />
<line x1="1529.5" y1="1633.5" x2="1529.5" y2="1689.0" stroke="#9a9a9a" stroke-width="2" />
<rect x="1510.5" y="1143.6" width="20" height="421.4" fill="#d4d4d4"/>
<line x1="1511.5" y1="1143.6" x2="1511.5" y2="1565.0" stroke="#9a9a9a" stroke-width="2" />
<line x1="1529.5" y1="1143.6" x2="1529.5" y2="1565.0" stroke="#9a9a9a" stroke-width="2" />
<line x1="1510.5" y1="1144.6" x2="1530.5" y2="1144.6" stroke="#444" stroke-width="2" />
<rect x="1575.8" y="1633.5" width="20" height="55.5" fill="#d4d4d4"/>
<line x1="1576.8" y1="1633.5" x2="1576.8" y2="1689.0" stroke="#1e1e1e" stroke-width="2" />
<line x1="1594.8" y1="1633.5" x2="1594.8" y2="1689.0" stroke="#1e1e1e" stroke-width="2" />
<rect x="1575.8" y="1141.4" width="20" height="423.6" fill="#d4d4d4"/>
<line x1="1576.8" y1="1141.4" x2="1576.8" y2="1565.0" stroke="#1e1e1e" stroke-width="2" />
<line x1="1594.8" y1="1141.4" x2="1594.8" y2="1565.0" stroke="#1e1e1e" stroke-width="2" />
<line x1="1575.8" y1="1142.4" x2="1595.8" y2="1142.4" stroke="#444" stroke-width="2" />
<rect x="1641.0" y="1633.5" width="20" height="55.5" fill="#d4d4d4"/>
<line x1="1642.0" y1="1633.5" x2="1642.0" y2="1689.0" stroke="#9a9a9a" stroke-width="2" />
<line x1="1660.0" y1="1633.5" x2="1660.0" y2="1689.0" stroke="#9a9a9a" stroke-width="2" />
<rect x="1641.0" y="1155.6" width="20" height="409.4" fill="#d4d4d4"/>
<line x1="1642.0" y1="1155.6" x2="1642.0" y2="1565.0" stroke="#9a9a9a" stroke-width="2" />
<line x1="1660.0" y1="1155.6" x2="1660.0" y2="1565.0" stroke="#9a9a9a" stroke-width="2" />
<line x1="1641.0" y1="1156.6" x2="1661.0" y2="1156.6" stroke="#444" stroke-width="2" />
<rect x="1706.2" y="1633.5" width="20" height="55.5" fill="#d4d4d4"/>
<line x1="1707.2" y1="1633.5" x2="1707.2" y2="1689.0" stroke="#1e1e1e" stroke-width="2" />
<line x1="1725.2" y1="1633.5" x2="1725.2" y2="1689.0" stroke="#1e1e1e" stroke-width="2" />
<rect x="1706.2" y="1169.0" width="20" height="396.0" fill="#d4d4d4"/>
<line x1="1707.2" y1="1169.0" x2="1707.2" y2="1565.0" stroke="#1e1e1e" stroke-width="2" />
<line x1="1725.2" y1="1169.0" x2="1725.2" y2="1565.0" stroke="#1e1e1e" stroke-width="2" />
<line x1="1706.2" y1="1170.0" x2="1726.2" y2="1170.0" stroke="#444" stroke-width="2" />
<rect x="1771.5" y="1633.5" width="20" height="55.5" fill="#d4d4d4"/>
<line x1="1772.5" y1="1633.5" x2="1772.5" y2="1689.0" stroke="#1e1e1e" stroke-width="2" />
<line x1="1790.5" y1="1633.5" x2="1790.5" y2="1689.0" stroke="#1e1e1e" stroke-width="2" />
<rect x="1771.5" y="1189.9" width="20" height="375.1" fill="#d4d4d4"/>
<line x1="1772.5" y1="1189.9" x2="1772.5" y2="1565.0" stroke="#1e1e1e" stroke-width="2" />
<line x1="1790.5" y1="1189.9" x2="1790.5" y2="1565.0" stroke="#1e1e1e" stroke-width="2" />
<line x1="1771.5" y1="1190.9" x2="1791.5" y2="1190.9" stroke="#444" stroke-width="2" />
<rect x="1836.8" y="1633.5" width="20" height="55.5" fill="#d4d4d4"/>
<line x1="1837.8" y1="1633.5" x2="1837.8" y2="1689.0" stroke="#9a9a9a" stroke-width="2" />
<line x1="1855.8" y1="1633.5" x2="1855.8" y2="1689.0" stroke="#9a9a9a" stroke-width="2" />
<rect x="1836.8" y="1204.6" width="20" height="360.4" fill="#d4d4d4"/>
<line x1="1837.8" y1="1204.6" x2="1837.8" y2="1565.0" stroke="#9a9a9a" stroke-width="2" />
<line x1="1855.8" y1="1204.6" x2="1855.8" y2="1565.0" stroke="#9a9a9a" stroke-width="2" />
<line x1="1836.8" y1="1205.6" x2="1856.8" y2="1205.6" stroke="#444" stroke-width="2" />
<polyline points="616.8,1689.0 672.2,1659.6 737.5,1509.9 802.8,1210.4 868.0,1090.6 933.2,1090.6 998.5,1090.6 1063.8,1090.6 1129.0,1090.6 1390.0,1330.2 1455.2,1450.0 1585.8,1270.3 1716.2,1270.3 1846.8,1450.0" fill="none" stroke="#dc4a50" stroke-width="3.3" stroke-linejoin="round" />
<circle cx="672.2" cy="1659.6" r="9.2" fill="#e5403f"/>
<circle cx="737.5" cy="1509.9" r="9.2" fill="#e5403f"/>
<circle cx="802.8" cy="1210.4" r="9.2" fill="#e5403f"/>
<circle cx="868.0" cy="1090.6" r="9.2" fill="#e5403f"/>
<circle cx="933.2" cy="1090.6" r="9.2" fill="#e5403f"/>
<circle cx="998.5" cy="1090.6" r="9.2" fill="#e5403f"/>
<circle cx="1063.8" cy="1090.6" r="9.2" fill="#e5403f"/>
<circle cx="1129.0" cy="1090.6" r="9.2" fill="#e5403f"/>
<circle cx="1390.0" cy="1330.2" r="9.2" fill="#e5403f"/>
<circle cx="1455.2" cy="1450.0" r="9.2" fill="#e5403f"/>
<circle cx="1585.8" cy="1270.3" r="9.2" fill="#e5403f"/>
<circle cx="1716.2" cy="1270.3" r="9.2" fill="#e5403f"/>
<circle cx="1846.8" cy="1450.0" r="9.2" fill="#e5403f"/>
<rect x="735.3" y="1379.3" width="4.4" height="3.0" fill="#222"/>
<rect x="800.5" y="1244.7" width="4.4" height="3.0" fill="#222"/>
<rect x="865.8" y="1181.2" width="4.4" height="5.0" fill="#222"/>
<rect x="931.0" y="1145.2" width="4.4" height="2.0" fill="#222"/>
<rect x="996.3" y="1083.6" width="4.4" height="19.0" fill="#222"/>
<rect x="1061.5" y="1046.4" width="4.4" height="9.0" fill="#222"/>
<rect x="1126.8" y="1044.0" width="4.4" height="8.0" fill="#222"/>
<rect x="1192.0" y="1060.3" width="4.4" height="2.0" fill="#222"/>
<rect x="1257.3" y="1091.7" width="4.4" height="7.0" fill="#222"/>
<rect x="1322.5" y="1086.4" width="4.4" height="7.0" fill="#222"/>
<rect x="1387.8" y="1087.7" width="4.4" height="11.0" fill="#222"/>
<rect x="1453.0" y="1098.0" width="4.4" height="11.0" fill="#222"/>
<rect x="1518.3" y="1141.6" width="4.4" height="2.0" fill="#222"/>
<rect x="1583.5" y="1138.4" width="4.4" height="3.0" fill="#222"/>
<rect x="1648.8" y="1153.6" width="4.4" height="2.0" fill="#222"/>
<rect x="1714.0" y="1166.0" width="4.4" height="3.0" fill="#222"/>
<rect x="1779.3" y="1182.4" width="4.4" height="7.5" fill="#222"/>
<rect x="1844.5" y="1193.6" width="4.4" height="11.0" fill="#222"/>
<line x1="476.0" y1="1845.8" x2="476.0" y2="2600.0" stroke="#000" stroke-width="3.4" />
<line x1="441.2" y1="1847.4" x2="476.0" y2="1847.4" stroke="#000" stroke-width="3.4" />
<line x1="441.2" y1="2086.7" x2="476.0" y2="2086.7" stroke="#000" stroke-width="3.4" />
<line x1="441.2" y1="2326.0" x2="476.0" y2="2326.0" stroke="#000" stroke-width="3.4" />
<line x1="441.2" y1="2565.3" x2="1912.0" y2="2565.3" stroke="#000" stroke-width="3.4" />
<line x1="476.5" y1="2565.3" x2="476.5" y2="2600.0" stroke="#000" stroke-width="3.4" />
<line x1="607.0" y1="2565.3" x2="607.0" y2="2600.0" stroke="#000" stroke-width="3.4" />
<line x1="737.5" y1="2565.3" x2="737.5" y2="2600.0" stroke="#000" stroke-width="3.4" />
<line x1="868.0" y1="2565.3" x2="868.0" y2="2600.0" stroke="#000" stroke-width="3.4" />
<line x1="998.5" y1="2565.3" x2="998.5" y2="2600.0" stroke="#000" stroke-width="3.4" />
<line x1="1129.0" y1="2565.3" x2="1129.0" y2="2600.0" stroke="#000" stroke-width="3.4" />
<line x1="1259.5" y1="2565.3" x2="1259.5" y2="2600.0" stroke="#000" stroke-width="3.4" />
<line x1="1390.0" y1="2565.3" x2="1390.0" y2="2600.0" stroke="#000" stroke-width="3.4" />
<line x1="1520.5" y1="2565.3" x2="1520.5" y2="2600.0" stroke="#000" stroke-width="3.4" />
<line x1="1651.0" y1="2565.3" x2="1651.0" y2="2600.0" stroke="#000" stroke-width="3.4" />
<line x1="1781.5" y1="2565.3" x2="1781.5" y2="2600.0" stroke="#000" stroke-width="3.4" />
<line x1="1912.0" y1="2565.3" x2="1912.0" y2="2600.0" stroke="#000" stroke-width="3.4" />
<text id="lc3" x="222" y="1872.4" font-size="67" style='font-family:"Liberation Sans",Arial,sans-serif;font-weight:bold;letter-spacing:4px'>3<tspan font-size="54" dx="-1">×</tspan>10</text>
<text id="ls3" x="380" y="1852.4" font-size="46" style='font-family:"Liberation Sans",Arial,sans-serif;letter-spacing:1px' stroke="#000" stroke-width="1.1">10</text>
<text id="lc2" x="222" y="2111.7" font-size="67" style='font-family:"Liberation Sans",Arial,sans-serif;font-weight:bold;letter-spacing:4px'>2<tspan font-size="54" dx="-1">×</tspan>10</text>
<text id="ls2" x="380" y="2091.7" font-size="46" style='font-family:"Liberation Sans",Arial,sans-serif;letter-spacing:1px' stroke="#000" stroke-width="1.1">10</text>
<text id="lc1" x="222" y="2351.0" font-size="67" style='font-family:"Liberation Sans",Arial,sans-serif;font-weight:bold;letter-spacing:4px'>1<tspan font-size="54" dx="-1">×</tspan>10</text>
<text id="ls1" x="380" y="2331.0" font-size="46" style='font-family:"Liberation Sans",Arial,sans-serif;letter-spacing:1px' stroke="#000" stroke-width="1.1">10</text>
<text id="lc0" x="432.0" y="2588.3" font-size="67" text-anchor="end" style='font-family:"Liberation Sans",Arial,sans-serif;font-weight:bold;letter-spacing:2px' fill="#000" >0</text>
<text id="xc0" x="477.5" y="2677.0" font-size="67" text-anchor="middle" style='font-family:"Liberation Sans",Arial,sans-serif;font-weight:bold;letter-spacing:2px' fill="#000" >0</text>
<text id="xc2" x="608.0" y="2677.0" font-size="67" text-anchor="middle" style='font-family:"Liberation Sans",Arial,sans-serif;font-weight:bold;letter-spacing:2px' fill="#000" >2</text>
<text id="xc4" x="738.5" y="2677.0" font-size="67" text-anchor="middle" style='font-family:"Liberation Sans",Arial,sans-serif;font-weight:bold;letter-spacing:2px' fill="#000" >4</text>
<text id="xc6" x="869.0" y="2677.0" font-size="67" text-anchor="middle" style='font-family:"Liberation Sans",Arial,sans-serif;font-weight:bold;letter-spacing:2px' fill="#000" >6</text>
<text id="xc8" x="999.5" y="2677.0" font-size="67" text-anchor="middle" style='font-family:"Liberation Sans",Arial,sans-serif;font-weight:bold;letter-spacing:2px' fill="#000" >8</text>
<text id="xc10" x="1130.0" y="2677.0" font-size="67" text-anchor="middle" style='font-family:"Liberation Sans",Arial,sans-serif;font-weight:bold;letter-spacing:2px' fill="#000" >10</text>
<text id="xc12" x="1260.5" y="2677.0" font-size="67" text-anchor="middle" style='font-family:"Liberation Sans",Arial,sans-serif;font-weight:bold;letter-spacing:2px' fill="#000" >12</text>
<text id="xc14" x="1391.0" y="2677.0" font-size="67" text-anchor="middle" style='font-family:"Liberation Sans",Arial,sans-serif;font-weight:bold;letter-spacing:2px' fill="#000" >14</text>
<text id="xc16" x="1521.5" y="2677.0" font-size="67" text-anchor="middle" style='font-family:"Liberation Sans",Arial,sans-serif;font-weight:bold;letter-spacing:2px' fill="#000" >16</text>
<text id="xc18" x="1652.0" y="2677.0" font-size="67" text-anchor="middle" style='font-family:"Liberation Sans",Arial,sans-serif;font-weight:bold;letter-spacing:2px' fill="#000" >18</text>
<text id="xc20" x="1782.5" y="2677.0" font-size="67" text-anchor="middle" style='font-family:"Liberation Sans",Arial,sans-serif;font-weight:bold;letter-spacing:2px' fill="#000" >20</text>
<text id="xc22" x="1913.0" y="2677.0" font-size="67" text-anchor="middle" style='font-family:"Liberation Sans",Arial,sans-serif;font-weight:bold;letter-spacing:2px' fill="#000" >22</text>
<text id="xlab" x="1194.0" y="2754.0" font-size="67" text-anchor="middle" style='font-family:"Liberation Sans",Arial,sans-serif' fill="#000" >Day post cell seeding</text>
<polyline points="933.2,2548.6 998.5,2513.8 1063.8,2428.9 1129.0,2344.0 1194.2,2275.0 1259.5,2233.0 1324.8,2189.4 1390.0,2147.4 1455.2,2113.3 1520.5,2091.5 1585.8,2071.2 1651.0,2053.8 1716.2,2039.2 1781.5,2032.0 1846.8,2024.7 1912.0,2015.3" fill="none" stroke="#333" stroke-width="3.2" stroke-linejoin="round" />
<circle cx="933.2" cy="2548.6" r="8" fill="#333"/>
<circle cx="998.5" cy="2513.8" r="8" fill="#333"/>
<circle cx="1063.8" cy="2428.9" r="8" fill="#333"/>
<circle cx="1129.0" cy="2344.0" r="8" fill="#333"/>
<circle cx="1194.2" cy="2275.0" r="8" fill="#333"/>
<circle cx="1259.5" cy="2233.0" r="8" fill="#333"/>
<circle cx="1324.8" cy="2189.4" r="8" fill="#333"/>
<circle cx="1390.0" cy="2147.4" r="8" fill="#333"/>
<circle cx="1455.2" cy="2113.3" r="8" fill="#333"/>
<circle cx="1520.5" cy="2091.5" r="8" fill="#333"/>
<circle cx="1585.8" cy="2071.2" r="8" fill="#333"/>
<circle cx="1651.0" cy="2053.8" r="8" fill="#333"/>
<circle cx="1716.2" cy="2039.2" r="8" fill="#333"/>
<circle cx="1781.5" cy="2032.0" r="8" fill="#333"/>
<circle cx="1846.8" cy="2024.7" r="8" fill="#333"/>
<circle cx="1912.0" cy="2015.3" r="8" fill="#333"/>
<polyline points="737.5,2565.3 802.8,2561.7 868.0,2549.3 933.2,2532.6 998.5,2499.3 1063.8,2414.4 1129.0,2328.8 1194.2,2262.0 1259.5,2218.5 1324.8,2175.0 1390.0,2132.8 1455.2,2098.7 1520.5,2079.2 1585.8,2056.7 1651.0,2039.2 1716.2,2024.7 1781.5,2017.5 1846.8,2010.2 1912.0,2000.8" fill="none" stroke="#a3a3a3" stroke-width="3.2" stroke-linejoin="round" />
<circle cx="737.5" cy="2565.3" r="8" fill="#a3a3a3"/>
<circle cx="802.8" cy="2561.7" r="8" fill="#a3a3a3"/>
<circle cx="868.0" cy="2549.3" r="8" fill="#a3a3a3"/>
<circle cx="933.2" cy="2532.6" r="8" fill="#a3a3a3"/>
<circle cx="998.5" cy="2499.3" r="8" fill="#a3a3a3"/>
<circle cx="1063.8" cy="2414.4" r="8" fill="#a3a3a3"/>
<circle cx="1129.0" cy="2328.8" r="8" fill="#a3a3a3"/>
<circle cx="1194.2" cy="2262.0" r="8" fill="#a3a3a3"/>
<circle cx="1259.5" cy="2218.5" r="8" fill="#a3a3a3"/>
<circle cx="1324.8" cy="2175.0" r="8" fill="#a3a3a3"/>
<circle cx="1390.0" cy="2132.8" r="8" fill="#a3a3a3"/>
<circle cx="1455.2" cy="2098.7" r="8" fill="#a3a3a3"/>
<circle cx="1520.5" cy="2079.2" r="8" fill="#a3a3a3"/>
<circle cx="1585.8" cy="2056.7" r="8" fill="#a3a3a3"/>
<circle cx="1651.0" cy="2039.2" r="8" fill="#a3a3a3"/>
<circle cx="1716.2" cy="2024.7" r="8" fill="#a3a3a3"/>
<circle cx="1781.5" cy="2017.5" r="8" fill="#a3a3a3"/>
<circle cx="1846.8" cy="2010.2" r="8" fill="#a3a3a3"/>
<circle cx="1912.0" cy="2000.8" r="8" fill="#a3a3a3"/>
<text id="t_glu" transform="translate(88.5,678.0) rotate(-90)" font-size="66" text-anchor="start" style='font-family:"Liberation Sans",Arial,sans-serif' fill="#000">Glucose (mM)</text>
<line x1="68.0" y1="132.4" x2="68.0" y2="235.0" stroke="#9a9a9a" stroke-width="3.4" stroke-dasharray="12 10.5"/>
<text id="t_gcr" transform="translate(170.0,721.0) rotate(-90)" font-size="66" text-anchor="start" style='font-family:"Liberation Sans",Arial,sans-serif' fill="#000">GCR (mmol/day)</text>
<line x1="155.0" y1="90.3" x2="155.0" y2="190.5" stroke="#2a8ea3" stroke-width="3.8" />
<circle cx="155.0" cy="140.0" r="9.5" fill="#1a93ae"/>
<text id="t_ph" transform="translate(2129.0,74.0) rotate(90)" font-size="67" text-anchor="start" style='font-family:"Liberation Sans",Arial,sans-serif' fill="#000">pH</text>
<line x1="2142.5" y1="177.6" x2="2142.5" y2="275.3" stroke="#8433b3" stroke-width="3.6" />
<text id="t_cells" transform="translate(2127.0,302.0) rotate(90)" font-size="67" text-anchor="start" style='font-family:"Liberation Sans",Arial,sans-serif' fill="#000">Cells/Carrier<tspan x="384.6" dy="5" font-size="48">×</tspan><tspan x="411.9" dy="-5">10</tspan><tspan x="488.8" dy="-33" font-size="46">6</tspan></text>
<line x1="2142.6" y1="817.4" x2="2142.6" y2="912.6" stroke="#d2555c" stroke-width="3.6" />
<circle cx="2142.6" cy="865.9" r="9.5" fill="#e5403f"/>
<text id="t_hcv" transform="translate(89.1,1620.0) rotate(-90)" font-size="66" text-anchor="start" style='font-family:"Liberation Sans",Arial,sans-serif' fill="#000">HCV infectivity titer</text>
<rect x="64.5" y="1007" width="17" height="33" fill="#d2d2d2" stroke="#b0b0b0" stroke-width="2"/>
<line x1="65.0" y1="1008.0" x2="65.0" y2="1038.0" stroke="#555" stroke-width="2.2" />
<line x1="64.0" y1="1008.0" x2="80.0" y2="1008.0" stroke="#999" stroke-width="2" />
<text id="t_log" transform="translate(172.0,1549.0) rotate(-90)" font-size="66" text-anchor="start" style='font-family:"Liberation Sans",Arial,sans-serif' fill="#000">(log<tspan dy="15" font-size="46">10</tspan><tspan dy="-15"> FFU/mL)</tspan></text>
<text id="t_pos" transform="translate(2121.0,984.0) rotate(90)" font-size="66.3" text-anchor="start" style='font-family:"Liberation Sans",Arial,sans-serif' fill="#000">HCV positive cells (%)</text>
<line x1="2133.3" y1="1653.7" x2="2133.3" y2="1751.0" stroke="#d2555c" stroke-width="3.4" />
<circle cx="2133.3" cy="1702.0" r="9.5" fill="#e5403f"/>
<text id="t_acc" transform="translate(91.5,2470.0) rotate(-90)" font-size="66" text-anchor="start" style='font-family:"Liberation Sans",Arial,sans-serif' fill="#000">Accumulated FFU</text>
<text id="t_all" transform="translate(175.5,2395.0) rotate(-90)" font-size="66" text-anchor="start" style='font-family:"Liberation Sans",Arial,sans-serif' fill="#000">All</text>
<line x1="151.0" y1="2209.5" x2="151.0" y2="2306.0" stroke="#a3a3a3" stroke-width="3" />
<circle cx="151.0" cy="2256.5" r="8" fill="#a3a3a3"/>
<text id="t_sf" transform="translate(175.5,2173.0) rotate(-90)" font-size="66" text-anchor="start" style='font-family:"Liberation Sans",Arial,sans-serif' fill="#000">SF</text>
<line x1="151.0" y1="1969.7" x2="151.0" y2="2068.6" stroke="#333" stroke-width="3" />
<circle cx="151.0" cy="2019.0" r="8" fill="#333"/>
<text id="pa" x="28" y="85" font-size="78" style='font-family:"Liberation Serif",serif'>(<tspan font-weight="bold" dx="1">a</tspan><tspan dx="1.7">)</tspan></text>
<text id="pb" x="25.4" y="957" font-size="78" style='font-family:"Liberation Serif",serif'>(<tspan font-weight="bold" dx="1">b</tspan><tspan dx="0.3">)</tspan></text>
<text id="pc" x="31" y="1841.5" font-size="78" style='font-family:"Liberation Serif",serif'>(<tspan font-weight="bold" dx="1">c</tspan><tspan dx="1.5">)</tspan></text>
</svg></body></html>
